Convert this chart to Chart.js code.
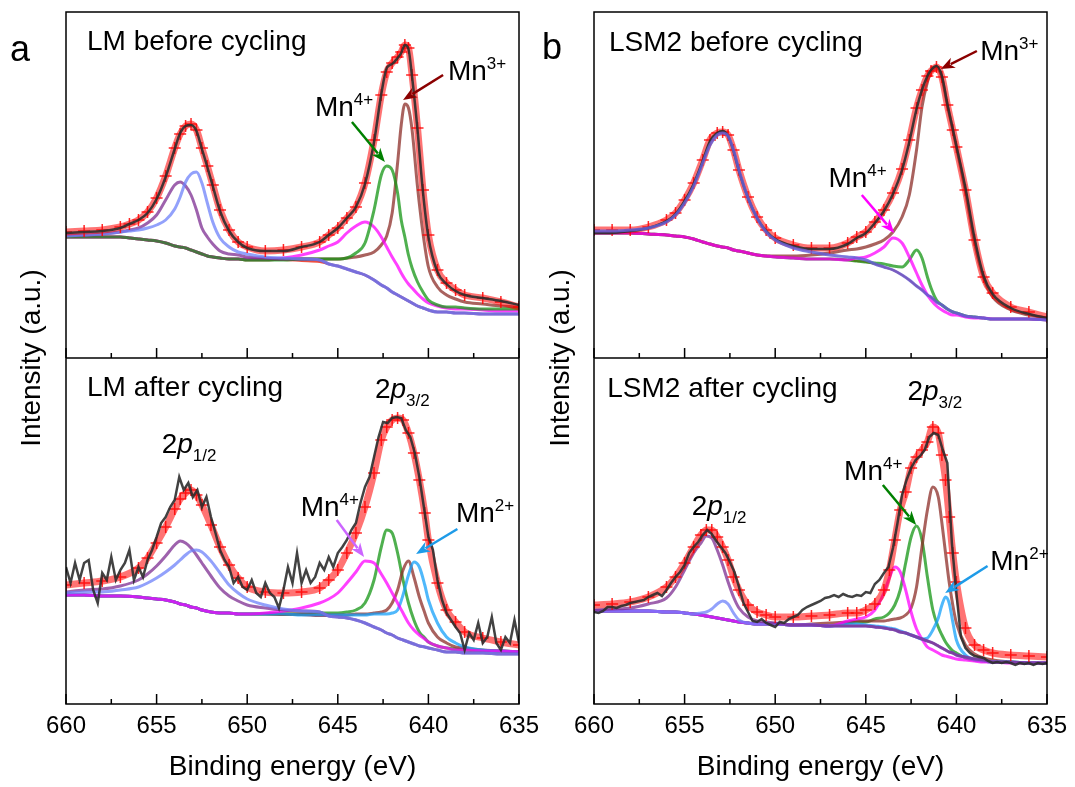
<!DOCTYPE html>
<html>
<head>
<meta charset="utf-8">
<title>Mn 2p XPS of LM and LSM2 before and after cycling</title>
<script src="https://cdn.jsdelivr.net/npm/chart.js@4.4.1/dist/chart.umd.min.js"></script>
<style>
  html, body { margin: 0; padding: 0; background: #fff; }
  #wrap { position: relative; width: 1075px; height: 787px; overflow: hidden; font-family: 'Liberation Sans', Arial, sans-serif; }
  canvas { position: absolute; top: 0; }
  #chartLM { left: 0; }
  #chartLSM { left: 530px; }
  .letter { position: absolute; font-size: 36px; line-height: 1; color: #000; }
</style>
</head>
<body>
<div id="wrap">
  <canvas id="chartLM" width="545" height="787"></canvas>
  <canvas id="chartLSM" width="545" height="787"></canvas>
  <div class="letter" style="left:10px;top:31px">a</div>
  <div class="letter" style="left:542px;top:29px">b</div>
</div>
<script>
// ---- data (intensity in a.u., binding energy in eV) ----
// the "before cycling" spectra are shifted up by PANEL_OFFSET so both fit in one frame
const PANEL_OFFSET = 346;
const Y_MAX = 692;
const X_MIN = 635;
const X_MAX = 660;
const MAJOR_TICKS = [660, 655, 650, 645, 640, 635];
const MINOR_TICKS = [657.5, 652.5, 647.5, 642.5, 637.5];

// raw spectra of the cycled samples, 0.25 eV step
const eStep = [660, 659.75, 659.5, 659.25, 659, 658.75, 658.5, 658.25, 658, 657.75, 657.5, 657.25, 657, 656.75, 656.5, 656.25, 656, 655.75, 655.5, 655.25, 655, 654.75, 654.5, 654.25, 654, 653.75, 653.5, 653.25, 653, 652.75, 652.5, 652.25, 652, 651.75, 651.5, 651.25, 651, 650.75, 650.5, 650.25, 650, 649.75, 649.5, 649.25, 649, 648.75, 648.5, 648.25, 648, 647.75, 647.5, 647.25, 647, 646.75, 646.5, 646.25, 646, 645.75, 645.5, 645.25, 645, 644.75, 644.5, 644.25, 644, 643.75, 643.5, 643.25, 643, 642.75, 642.5, 642.25, 642, 641.75, 641.5, 641.25, 641, 640.75, 640.5, 640.25, 640, 639.75, 639.5, 639.25, 639, 638.75, 638.5, 638.25, 638, 637.75, 637.5, 637.25, 637, 636.75, 636.5, 636.25, 636, 635.75, 635.5, 635.25, 635];

// LM before cycling
const eLMbefore = [660, 659, 658, 657, 656.5, 656, 655.5, 655, 654.5, 654, 653.7, 653.4, 653.1, 652.8, 652.5, 652.2, 651.9, 651.5, 651, 650.5, 650, 649, 648, 647, 646, 645.5, 645, 644.5, 644, 643.5, 643, 642.6, 642.3, 642, 641.7, 641.5, 641.3, 641.1, 640.9, 640.6, 640.3, 640, 639.5, 639, 638.5, 638, 637, 636, 635];
const lmBeforeData = [125, 126, 127, 130, 134, 138, 145, 159, 181, 209, 225, 232, 233, 227, 209, 191, 172, 147, 127, 116, 110, 107, 107, 111, 116, 123, 130, 140, 151, 174, 216, 264, 290, 294, 300, 305, 313, 309, 281, 228, 166, 121, 86, 74, 67, 63, 60, 57, 53];
const lmBeforeFit = [126, 127, 128, 131, 134, 138, 146, 160, 182, 210, 224, 232, 234, 228, 210, 192, 173, 148, 128, 116, 111, 107, 108, 111, 116, 123, 130, 140, 151, 175, 218, 263, 286, 295, 301, 306, 313, 310, 283, 230, 168, 123, 88, 75, 68, 63, 60, 56, 51];
const lmBeforeBg = [121, 121, 121, 121, 120, 119, 118, 117, 115, 112, 111, 110, 108, 106, 104, 102, 101, 100, 99, 99, 98, 98, 98, 97, 96, 94, 92, 89, 86, 83, 78, 73, 70, 66, 63, 61, 59, 57, 55, 52, 50, 48, 46, 46, 45, 45, 44, 44, 44];
const lmBeforeP1 = [123, 123, 124, 126, 128, 130, 135, 143, 158, 173, 176, 172, 163, 148, 130, 121, 114, 107, 104, 103, 101, 100, 99, 99, 98, 94, 92, 89, 86, 83, 78, 73, 70, 66, 63, 61, 59, 57, 55, 52, 50, 48, 46, 46, 45, 45, 44, 44, 44];
const lmBeforeP2 = [122, 123, 124, 126, 127, 128, 130, 133, 138, 149, 161, 176, 184, 186, 175, 155, 136, 120, 111, 106, 104, 101, 100, 99, 98, 94, 92, 89, 86, 83, 78, 73, 70, 66, 63, 61, 59, 57, 55, 52, 50, 48, 46, 46, 45, 45, 44, 44, 44];
const lmBeforeMn4a = [121, 121, 121, 121, 120, 119, 118, 117, 115, 112, 111, 110, 108, 106, 104, 102, 101, 100, 99, 99, 99, 99, 100, 103, 108, 112, 116, 125, 132, 136, 131, 121, 111, 101, 92, 85, 79, 74, 70, 64, 59, 55, 52, 50, 49, 49, 48, 47, 47];
const lmBeforeMn4b = [121, 121, 121, 121, 120, 119, 118, 117, 115, 112, 111, 110, 108, 106, 104, 102, 101, 100, 99, 99, 98, 98, 98, 99, 99, 99, 99, 100, 105, 115, 148, 183, 192, 188, 165, 138, 121, 103, 90, 76, 66, 58, 53, 51, 51, 50, 49, 49, 49];
const lmBeforeMn3 = [121, 121, 121, 121, 120, 119, 118, 117, 115, 112, 111, 110, 108, 106, 104, 102, 101, 100, 99, 99, 98, 98, 99, 99, 99, 99, 99, 100, 101, 103, 106, 113, 122, 145, 195, 233, 254, 250, 228, 171, 125, 91, 71, 63, 59, 56, 54, 52, 51];

// LM after cycling
const eLMafter = [660, 659, 658, 657, 656, 655.5, 655, 654.5, 654, 653.7, 653.4, 653.1, 652.8, 652.5, 652, 651.5, 651, 650.5, 650, 649, 648, 647, 646, 645.5, 645, 644.5, 644, 643.5, 643, 642.6, 642.3, 642, 641.7, 641.4, 641.1, 640.8, 640.5, 640.2, 640, 639.5, 639, 638.5, 638, 637, 636, 635];
const lmAfterData = [137, 121, 141, 124, 141, 144, 114, 101, 131, 124, 147, 124, 134, 141, 154, 124, 137, 127, 144, 154, 167, 181, 187, 197, 204, 227, 214, 221, 207, 214, 197, 207, 187, 171, 154, 144, 137, 121, 127, 117, 114, 124, 111, 107, 121, 111, 107, 96, 114, 137, 121, 151, 121, 134, 121, 127, 141, 134, 147, 137, 151, 157, 164, 174, 181, 201, 217, 227, 247, 267, 282, 281, 286, 287, 286, 274, 267, 251, 227, 197, 167, 154, 124, 104, 91, 84, 77, 71, 54, 71, 64, 81, 61, 67, 87, 61, 54, 67, 61, 84, 61];
const lmAfterFit = [119, 121, 123, 127, 136, 146, 161, 177, 195, 205, 211, 214, 209, 199, 179, 157, 139, 126, 117, 112, 111, 112, 116, 124, 134, 151, 171, 197, 231, 264, 277, 284, 286, 284, 271, 251, 224, 191, 164, 121, 94, 82, 72, 66, 62, 59];
const lmAfterBg = [109, 109, 108, 108, 107, 106, 105, 104, 102, 100, 99, 97, 96, 94, 92, 91, 91, 90, 90, 90, 89, 89, 88, 88, 87, 86, 84, 81, 77, 74, 71, 69, 66, 64, 62, 60, 58, 57, 56, 54, 52, 52, 51, 51, 50, 50];
const lmAfterP1 = [112, 114, 115, 118, 124, 130, 138, 148, 159, 163, 161, 156, 149, 141, 128, 116, 108, 103, 99, 96, 94, 93, 92, 88, 87, 86, 84, 81, 77, 74, 71, 69, 66, 64, 62, 60, 58, 57, 56, 54, 52, 52, 51, 51, 50, 50];
const lmAfterP2 = [111, 112, 112, 114, 117, 121, 126, 132, 139, 144, 149, 153, 154, 152, 143, 131, 119, 111, 105, 99, 95, 93, 92, 88, 87, 86, 84, 81, 77, 74, 71, 69, 66, 64, 62, 60, 58, 57, 56, 54, 52, 52, 51, 51, 50, 50];
const lmAfterMn4a = [109, 109, 108, 108, 107, 106, 105, 104, 102, 100, 99, 97, 96, 94, 92, 91, 91, 90, 90, 91, 93, 96, 101, 105, 111, 121, 132, 143, 141, 130, 121, 111, 101, 91, 81, 74, 69, 65, 62, 58, 56, 54, 54, 53, 53, 52];
const lmAfterMn4b = [109, 109, 108, 108, 107, 106, 105, 104, 102, 100, 99, 97, 96, 94, 92, 91, 91, 90, 90, 90, 90, 90, 91, 91, 91, 92, 94, 101, 124, 157, 174, 171, 151, 124, 101, 84, 72, 66, 62, 58, 56, 55, 54, 53, 53, 52];
const lmAfterMn3 = [109, 109, 108, 108, 107, 106, 105, 104, 102, 100, 99, 97, 96, 94, 92, 91, 91, 90, 90, 90, 90, 90, 89, 89, 89, 89, 90, 90, 91, 92, 94, 101, 114, 134, 143, 127, 107, 91, 81, 67, 61, 57, 56, 54, 53, 52];
const lmAfterMn2 = [109, 109, 108, 108, 107, 106, 105, 104, 102, 100, 99, 97, 96, 94, 92, 91, 91, 90, 90, 90, 90, 89, 89, 89, 89, 89, 89, 89, 90, 90, 90, 91, 94, 109, 129, 142, 137, 119, 104, 81, 67, 61, 57, 54, 53, 52];

// LSM2 before cycling
const eLSMbefore = [660, 659, 658, 657, 656, 655.5, 655, 654.5, 654, 653.6, 653.2, 652.9, 652.6, 652.3, 652, 651.5, 651, 650.5, 650, 649, 648, 647, 646, 645.5, 645, 644.5, 644, 643.5, 643, 642.6, 642.2, 641.9, 641.6, 641.4, 641.1, 640.8, 640.5, 640.2, 640, 639.5, 639, 638.5, 638, 637, 636, 635];
const lsmBeforeData = [125, 125, 127, 130, 137, 144, 157, 174, 197, 217, 225, 227, 222, 207, 187, 160, 140, 127, 119, 112, 109, 109, 114, 120, 125, 135, 147, 164, 188, 216, 249, 268, 282, 288, 292, 282, 254, 229, 212, 170, 120, 82, 64, 50, 44, 40];
const lsmBeforeFit = [128, 128, 128, 131, 138, 145, 158, 175, 198, 218, 225, 226, 223, 208, 188, 161, 141, 128, 120, 113, 110, 110, 115, 121, 126, 136, 148, 165, 189, 218, 250, 268, 282, 287, 291, 281, 253, 228, 211, 168, 118, 81, 65, 51, 46, 41];
const lsmBeforeBg = [125, 125, 125, 124, 123, 122, 121, 119, 116, 114, 112, 111, 110, 108, 107, 105, 103, 102, 101, 100, 99, 99, 98, 97, 96, 94, 91, 88, 83, 78, 72, 68, 63, 61, 56, 53, 49, 46, 45, 42, 41, 40, 39, 39, 39, 38];
const lsmBeforeP = [127, 127, 128, 130, 136, 143, 155, 172, 195, 213, 223, 225, 222, 208, 188, 160, 140, 126, 118, 110, 106, 103, 101, 100, 98, 94, 91, 88, 83, 78, 72, 68, 63, 61, 56, 53, 49, 46, 45, 42, 41, 40, 39, 39, 39, 38];
const lsmBeforeMn4a = [125, 125, 125, 124, 123, 122, 121, 119, 116, 114, 112, 111, 110, 108, 107, 105, 103, 102, 101, 100, 99, 99, 98, 100, 101, 105, 111, 120, 115, 101, 85, 73, 63, 58, 52, 48, 45, 43, 43, 41, 40, 40, 39, 39, 39, 38];
const lsmBeforeMn4b = [125, 125, 125, 124, 123, 122, 121, 119, 116, 114, 112, 111, 110, 108, 107, 105, 103, 102, 101, 100, 99, 99, 98, 97, 96, 95, 94, 92, 91, 98, 108, 100, 81, 70, 58, 53, 49, 46, 45, 42, 41, 40, 39, 39, 39, 38];
const lsmBeforeMn3 = [125, 125, 125, 124, 123, 122, 121, 119, 116, 114, 112, 111, 110, 108, 107, 105, 103, 102, 102, 102, 103, 105, 108, 109, 111, 114, 118, 126, 141, 163, 208, 251, 276, 286, 290, 280, 253, 228, 211, 166, 115, 80, 61, 48, 43, 40];

// LSM2 after cycling
const eLSMafter = [660, 659, 658, 657, 656, 655.5, 655, 654.5, 654.1, 653.8, 653.5, 653.2, 652.9, 652.6, 652.3, 652, 651.5, 651, 650.5, 650, 649, 648, 647, 646, 645.5, 645, 644.5, 644, 643.7, 643.4, 643.1, 642.8, 642.5, 642.2, 641.9, 641.6, 641.3, 641, 640.8, 640.6, 640.4, 640.2, 640, 639.5, 639, 638.5, 638, 637, 636, 635];
const lsmAfterData = [92, 91, 93, 97, 97, 96, 98, 99, 101, 102, 103, 104, 107, 109, 111, 108, 114, 121, 127, 132, 139, 151, 157, 162, 169, 174, 170, 163, 157, 151, 142, 132, 117, 101, 92, 83, 82, 85, 81, 79, 77, 82, 81, 85, 87, 89, 94, 97, 99, 101, 103, 106, 107, 109, 107, 110, 108, 107, 109, 108, 112, 111, 120, 124, 131, 137, 156, 181, 209, 224, 236, 244, 248, 254, 267, 271, 269, 254, 241, 161, 111, 67, 56, 51, 48, 47, 46, 43, 41, 42, 41, 42, 41, 39, 41, 40, 41, 39, 41, 40, 41];
const lsmAfterFit = [99, 100, 102, 107, 117, 127, 141, 157, 169, 174, 174, 167, 157, 144, 127, 114, 99, 92, 89, 87, 87, 88, 89, 91, 91, 94, 100, 114, 134, 164, 194, 212, 236, 247, 254, 262, 277, 271, 249, 224, 187, 151, 122, 76, 59, 54, 51, 49, 48, 47];
const lsmAfterBg = [93, 93, 93, 93, 92, 92, 91, 90, 89, 88, 87, 86, 85, 84, 83, 82, 81, 80, 80, 80, 79, 79, 78, 78, 78, 78, 77, 76, 75, 74, 72, 71, 69, 67, 65, 63, 61, 58, 56, 54, 52, 51, 49, 47, 45, 44, 42, 42, 41, 41];
const lsmAfterP1 = [94, 95, 96, 100, 106, 117, 134, 151, 161, 168, 166, 154, 139, 122, 107, 96, 87, 83, 82, 81, 79, 79, 78, 78, 78, 78, 77, 76, 75, 74, 72, 71, 69, 67, 65, 63, 61, 58, 56, 54, 52, 51, 49, 47, 45, 44, 42, 42, 41, 41];
const lsmAfterP2 = [93, 93, 93, 93, 92, 92, 91, 90, 91, 92, 95, 100, 103, 100, 91, 84, 81, 80, 80, 80, 79, 79, 78, 78, 78, 78, 77, 76, 75, 74, 72, 71, 69, 67, 65, 63, 61, 58, 56, 54, 52, 51, 49, 47, 45, 44, 42, 42, 41, 41];
const lsmAfterMn4a = [93, 93, 93, 93, 92, 92, 91, 90, 89, 88, 87, 86, 85, 84, 83, 82, 81, 80, 80, 80, 79, 79, 78, 83, 85, 87, 94, 111, 126, 137, 132, 114, 92, 75, 65, 57, 54, 51, 49, 48, 47, 46, 45, 44, 43, 42, 42, 41, 41, 41];
const lsmAfterMn4b = [93, 93, 93, 93, 92, 92, 91, 90, 89, 88, 87, 86, 85, 84, 83, 82, 81, 80, 80, 80, 79, 79, 78, 81, 82, 82, 85, 87, 91, 99, 114, 141, 167, 178, 164, 127, 94, 77, 69, 62, 57, 53, 51, 46, 44, 43, 42, 42, 41, 41];
const lsmAfterMn3 = [93, 93, 93, 93, 92, 92, 91, 90, 89, 88, 87, 86, 85, 84, 83, 82, 81, 80, 80, 80, 79, 80, 81, 82, 83, 83, 83, 83, 84, 85, 86, 89, 96, 117, 157, 194, 217, 207, 181, 151, 122, 99, 81, 59, 50, 46, 44, 42, 41, 41];
const lsmAfterMn2 = [93, 93, 93, 93, 92, 92, 91, 90, 89, 88, 87, 86, 85, 84, 83, 82, 81, 80, 80, 80, 79, 79, 78, 80, 80, 79, 78, 77, 76, 75, 73, 71, 69, 67, 65, 66, 74, 86, 99, 107, 101, 82, 64, 49, 44, 43, 42, 42, 41, 41];

// annotations: position = [binding energy, intensity] of the text baseline start
const labelsLM = [
  { e: 658.84, i: 654, parts: [['LM before cycling', 28]] },
  { e: 638.92, i: 624, parts: [['Mn', 28], ['3+', 17, 'sup']] },
  { e: 646.26, i: 588, parts: [['Mn', 28], ['4+', 17, 'sup']] },
  { e: 658.84, i: 308, parts: [['LM after cycling', 28]] },
  { e: 642.95, i: 306, parts: [['2', 28], ['p', 28, 'it'], ['3/2', 17, 'sub']] },
  { e: 654.72, i: 251, parts: [['2', 28], ['p', 28, 'it'], ['1/2', 17, 'sub']] },
  { e: 647.05, i: 188, parts: [['Mn', 28], ['4+', 17, 'sup']] },
  { e: 638.48, i: 182, parts: [['Mn', 28], ['2+', 17, 'sup']] },
];
const arrowsLM = [
  { from: [639.19, 629], to: [641.4, 604], color: '#8b0000' },
  { from: [644.22, 582], to: [642.4, 542], color: '#008000' },
  { from: [645.06, 184], to: [643.55, 147], color: '#cc66ff' },
  { from: [638.4, 175], to: [640.68, 150], color: '#1e9be8' },
];
const labelsLSM = [
  { e: 659.17, i: 653, parts: [['LSM2 before cycling', 28]] },
  { e: 638.69, i: 644, parts: [['Mn', 28], ['3+', 17, 'sup']] },
  { e: 647.06, i: 517, parts: [['Mn', 28], ['4+', 17, 'sup']] },
  { e: 659.27, i: 307, parts: [['LSM2 after cycling', 28]] },
  { e: 642.7, i: 304, parts: [['2', 28], ['p', 28, 'it'], ['3/2', 17, 'sub']] },
  { e: 654.61, i: 189, parts: [['2', 28], ['p', 28, 'it'], ['1/2', 17, 'sub']] },
  { e: 646.2, i: 224, parts: [['Mn', 28], ['4+', 17, 'sup']] },
  { e: 638.13, i: 134, parts: [['Mn', 28], ['2+', 17, 'sup']] },
];
const arrowsLSM = [
  { from: [638.87, 653], to: [640.86, 635], color: '#8b0000' },
  { from: [645.22, 509], to: [643.43, 471], color: '#ff00ff' },
  { from: [644.06, 219], to: [642.22, 179], color: '#008000' },
  { from: [638.28, 138], to: [640.62, 111], color: '#1e9be8' },
];

// ---- drawing ----
const FONT = "'Liberation Sans', Arial, sans-serif";
Chart.defaults.font.family = FONT;
Chart.defaults.color = '#000';

const COLORS = {
  data: 'rgba(45, 45, 45, 0.9)',
  bg: 'rgba(235, 60, 45, 0.9)',
  p1: 'rgba(125, 45, 145, 0.75)',
  p2: 'rgba(110, 130, 250, 0.75)',
  pBlend: 'rgba(100, 95, 215, 0.85)',
  mn4a: 'rgba(255, 0, 255, 0.75)',
  mn4b: 'rgba(20, 150, 20, 0.75)',
  mn3: 'rgba(140, 45, 40, 0.75)',
  mn2: 'rgba(20, 160, 250, 0.75)',
};

function toPoints(xs, ys, offset) {
  return xs.map((x, i) => ({ x: x, y: ys[i] + offset }));
}

function curve(xs, ys, offset, color, width, smooth) {
  return {
    data: toPoints(xs, ys, offset),
    borderColor: color,
    borderWidth: width,
    pointRadius: 0,
    cubicInterpolationMode: smooth ? 'monotone' : 'default',
    tension: 0,
    clip: 0,
  };
}

function fitCurve(xs, ys, offset) {
  return {
    data: toPoints(xs, ys, offset),
    borderColor: 'rgba(255, 0, 0, 0.55)',
    borderWidth: 7,
    pointStyle: 'cross',
    pointRadius: 6,
    pointBorderColor: 'rgba(255, 0, 0, 0.85)',
    pointBackgroundColor: 'rgba(255, 0, 0, 0.85)',
    pointBorderWidth: 1.5,
    cubicInterpolationMode: 'monotone',
    clip: 0,
  };
}

function drawArrow(ctx, x1, y1, x2, y2, color) {
  const ang = Math.atan2(y2 - y1, x2 - x1);
  const head = 14;
  const half = 5.5;
  const bx = x2 - head * Math.cos(ang);
  const by = y2 - head * Math.sin(ang);
  ctx.strokeStyle = color;
  ctx.fillStyle = color;
  ctx.lineWidth = 2.5;
  ctx.beginPath();
  ctx.moveTo(x1, y1);
  ctx.lineTo(bx + 3 * Math.cos(ang), by + 3 * Math.sin(ang));
  ctx.stroke();
  ctx.beginPath();
  ctx.moveTo(x2, y2);
  ctx.lineTo(bx + half * Math.sin(ang), by - half * Math.cos(ang));
  ctx.lineTo(bx + 4 * Math.cos(ang), by + 4 * Math.sin(ang));
  ctx.lineTo(bx - half * Math.sin(ang), by + half * Math.cos(ang));
  ctx.closePath();
  ctx.fill();
}

// frame, panel divider, inward ticks, peak labels and arrows
function framePlugin(labels, arrows) {
  return {
    id: 'frame',
    afterDraw(chart) {
      const { ctx, chartArea: area } = chart;
      const xs = chart.scales.x;
      const ys = chart.scales.y;
      ctx.save();
      ctx.strokeStyle = '#000';
      ctx.lineWidth = 1.5;
      ctx.strokeRect(area.left, area.top, area.right - area.left, area.bottom - area.top);
      const ySplit = ys.getPixelForValue(PANEL_OFFSET);
      ctx.beginPath();
      ctx.moveTo(area.left, ySplit);
      ctx.lineTo(area.right, ySplit);
      ctx.stroke();
      [area.bottom, ySplit].forEach((yb) => {
        ctx.beginPath();
        MAJOR_TICKS.forEach((v) => {
          const px = xs.getPixelForValue(v);
          ctx.moveTo(px, yb);
          ctx.lineTo(px, yb - 10);
        });
        MINOR_TICKS.forEach((v) => {
          const px = xs.getPixelForValue(v);
          ctx.moveTo(px, yb);
          ctx.lineTo(px, yb - 5);
        });
        ctx.stroke();
      });

      arrows.forEach((a) => {
        drawArrow(ctx,
          xs.getPixelForValue(a.from[0]), ys.getPixelForValue(a.from[1]),
          xs.getPixelForValue(a.to[0]), ys.getPixelForValue(a.to[1]), a.color);
      });

      ctx.fillStyle = '#000';
      ctx.textAlign = 'left';
      ctx.textBaseline = 'alphabetic';
      labels.forEach((lab) => {
        let px = xs.getPixelForValue(lab.e);
        const py = ys.getPixelForValue(lab.i);
        lab.parts.forEach(([text, size, kind]) => {
          ctx.font = (kind === 'it' ? 'italic ' : '') + size + 'px ' + FONT;
          const dy = kind === 'sup' ? -11 : (kind === 'sub' ? 8 : 0);
          ctx.fillText(text, px, py + dy);
          px += ctx.measureText(text).width;
        });
      });
      ctx.restore();
    },
  };
}

function makeChart(id, datasets, yTitlePad, yWidth, padRight, labels, arrows) {
  return new Chart(document.getElementById(id), {
    type: 'line',
    data: { datasets: datasets },
    options: {
      responsive: false,
      animation: false,
      devicePixelRatio: 1,
      events: [],
      layout: { autoPadding: false, padding: { top: 12, right: padRight, bottom: 0, left: 0 } },
      plugins: { legend: { display: false }, tooltip: { enabled: false } },
      scales: {
        x: {
          type: 'linear',
          reverse: true,
          min: X_MIN,
          max: X_MAX,
          ticks: { stepSize: 5, font: { size: 24 }, color: '#000', padding: 0, maxRotation: 0 },
          grid: { display: false },
          border: { display: false },
          title: { display: true, text: 'Binding energy (eV)', font: { size: 28 }, color: '#000', padding: { top: 0, bottom: 3 } },
          afterFit: (s) => { s.height = 83; },
        },
        y: {
          min: 0,
          max: Y_MAX,
          ticks: { display: false },
          grid: { display: false },
          border: { display: false },
          title: { display: true, text: 'Intensity (a.u.)', font: { size: 28 }, color: '#000', padding: { top: yTitlePad, bottom: 0 } },
          afterFit: (s) => { s.width = yWidth; },
        },
      },
    },
    plugins: [framePlugin(labels, arrows)],
  });
}

// first dataset is drawn on top
const setsLM = [
  curve(eLMbefore, lmBeforeData, PANEL_OFFSET, COLORS.data, 2.5, true),
  fitCurve(eLMbefore, lmBeforeFit, PANEL_OFFSET),
  curve(eLMbefore, lmBeforeP2, PANEL_OFFSET, COLORS.p2, 3, true),
  curve(eLMbefore, lmBeforeP1, PANEL_OFFSET, COLORS.p1, 3, true),
  curve(eLMbefore, lmBeforeMn4b, PANEL_OFFSET, COLORS.mn4b, 3, true),
  curve(eLMbefore, lmBeforeMn4a, PANEL_OFFSET, COLORS.mn4a, 3, true),
  curve(eLMbefore, lmBeforeMn3, PANEL_OFFSET, COLORS.mn3, 3, true),
  curve(eLMbefore, lmBeforeBg, PANEL_OFFSET, COLORS.bg, 2, true),

  curve(eStep, lmAfterData, 0, COLORS.data, 2.5, false),
  fitCurve(eLMafter, lmAfterFit, 0),
  curve(eLMafter, lmAfterP2, 0, COLORS.p2, 3, true),
  curve(eLMafter, lmAfterP1, 0, COLORS.p1, 3, true),
  curve(eLMafter, lmAfterMn4a, 0, COLORS.mn4a, 3, true),
  curve(eLMafter, lmAfterMn2, 0, COLORS.mn2, 3, true),
  curve(eLMafter, lmAfterMn3, 0, COLORS.mn3, 3, true),
  curve(eLMafter, lmAfterMn4b, 0, COLORS.mn4b, 3, true),
  curve(eLMafter, lmAfterBg, 0, COLORS.bg, 2, true),
];

const setsLSM = [
  curve(eLSMbefore, lsmBeforeP, PANEL_OFFSET, COLORS.pBlend, 3, true),
  curve(eLSMbefore, lsmBeforeData, PANEL_OFFSET, COLORS.data, 2.5, true),
  fitCurve(eLSMbefore, lsmBeforeFit, PANEL_OFFSET),
  curve(eLSMbefore, lsmBeforeMn4a, PANEL_OFFSET, COLORS.mn4a, 3, true),
  curve(eLSMbefore, lsmBeforeMn3, PANEL_OFFSET, COLORS.mn3, 3, true),
  curve(eLSMbefore, lsmBeforeMn4b, PANEL_OFFSET, COLORS.mn4b, 3, true),
  curve(eLSMbefore, lsmBeforeBg, PANEL_OFFSET, COLORS.bg, 2, true),

  curve(eStep, lsmAfterData, 0, COLORS.data, 2.5, false),
  fitCurve(eLSMafter, lsmAfterFit, 0),
  curve(eLSMafter, lsmAfterP1, 0, COLORS.p1, 3, true),
  curve(eLSMafter, lsmAfterP2, 0, COLORS.p2, 3, true),
  curve(eLSMafter, lsmAfterMn4a, 0, COLORS.mn4a, 3, true),
  curve(eLSMafter, lsmAfterMn2, 0, COLORS.mn2, 3, true),
  curve(eLSMafter, lsmAfterMn3, 0, COLORS.mn3, 3, true),
  curve(eLSMafter, lsmAfterMn4b, 0, COLORS.mn4b, 3, true),
  curve(eLSMafter, lsmAfterBg, 0, COLORS.bg, 2, true),
];

makeChart('chartLM', setsLM, 15, 66, 26, labelsLM, arrowsLM);
makeChart('chartLSM', setsLSM, 14, 64, 28, labelsLSM, arrowsLSM);
</script>
</body>
</html>
